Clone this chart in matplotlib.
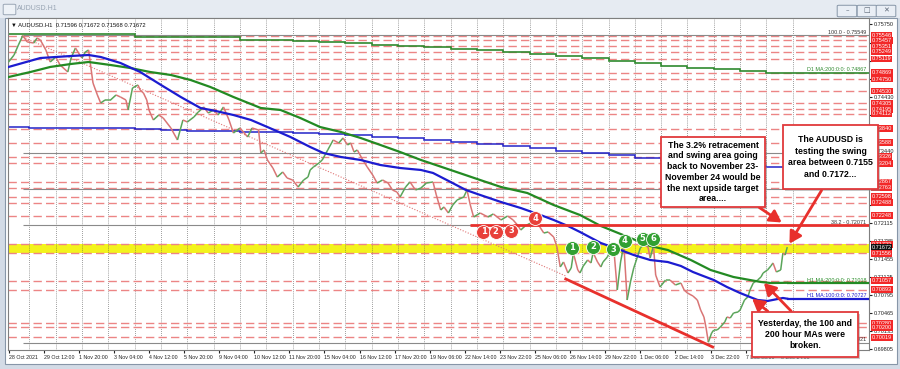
import matplotlib.pyplot as plt
from matplotlib.patches import Rectangle, FancyBboxPatch, FancyArrowPatch
from matplotlib.collections import LineCollection

# AUDUSD H1 - hourly bars, x = bar number from 28 Oct 2021 04:00
price_bars = [0, 5, 9, 13, 17, 23, 26, 29, 34, 38, 43, 47, 54, 57, 61, 65, 67, 70, 73, 75,
              77, 81, 84, 88, 93, 98, 102, 107, 109, 113, 118, 120, 123, 126, 128, 132, 137, 141, 148, 154,
              159, 163, 169, 173, 178, 182, 187, 191, 196, 201, 205, 211, 218, 222, 228, 230, 233, 236, 241, 245,
              250, 254, 259, 264, 269, 273, 275, 278, 283, 286, 291, 296, 301, 305, 309, 312, 315, 318, 323, 327,
              332, 336, 341, 346, 350, 354, 357, 362, 366, 371, 376, 381, 387, 390, 394, 397, 401, 405, 409, 415,
              418, 421, 424, 430, 437, 442, 449, 455, 460, 464, 467, 471, 476, 480, 485, 488, 492, 497, 500, 503,
              506, 510, 513, 515, 519, 521, 524, 528, 531, 533, 537, 540, 542, 546, 549, 552, 555, 558, 561, 564,
              567, 570, 573, 576, 579, 583, 585, 588, 590, 594, 599, 603, 608, 613, 616, 619, 624, 628, 631, 634,
              636, 638, 641, 643, 646, 649, 653, 655, 658, 661, 665, 667, 671, 674, 676, 679, 683, 686, 688, 692,
              695, 697, 700, 704, 706, 708, 710]
price_vals = [0.75063, 0.75191, 0.75375, 0.75549, 0.75430, 0.75411, 0.75503, 0.75466, 0.75283, 0.75063,
              0.75155, 0.75008, 0.74880, 0.75136, 0.75320, 0.75191, 0.75136, 0.75246, 0.75283, 0.74972,
              0.74678, 0.74459, 0.74312, 0.74367, 0.74367, 0.74459, 0.74422, 0.74367, 0.74184, 0.74587,
              0.74642, 0.74550, 0.74495, 0.74367, 0.74184, 0.74001, 0.74092, 0.74037, 0.73854, 0.73634,
              0.74001, 0.73964, 0.74056, 0.74147, 0.74239, 0.74129, 0.74184, 0.74092, 0.74239, 0.74001,
              0.73762, 0.73854, 0.73689, 0.73854, 0.73817, 0.73396, 0.73451, 0.73268, 0.73121, 0.72956,
              0.73048, 0.72938, 0.72901, 0.72773, 0.72901, 0.72956, 0.73085, 0.73140, 0.73213, 0.73268,
              0.73451, 0.73634, 0.73579, 0.73671, 0.73543, 0.73579, 0.73414, 0.73451, 0.73268, 0.73140,
              0.72993, 0.72846, 0.72901, 0.72846, 0.72718, 0.72682, 0.72590, 0.72773, 0.72865, 0.72718,
              0.72755, 0.72846, 0.72865, 0.72627, 0.72352, 0.72407, 0.72297, 0.72443, 0.72535, 0.72590,
              0.72718, 0.72443, 0.72224, 0.72297, 0.72224, 0.72279, 0.72169, 0.72242, 0.72169, 0.72077,
              0.71985, 0.72059, 0.72114, 0.72205, 0.72022, 0.71930, 0.71949, 0.71857, 0.71674, 0.71308,
              0.71399, 0.71198, 0.71289, 0.71560, 0.71253, 0.71198, 0.71326, 0.71436, 0.71381, 0.71570,
              0.71399, 0.71308, 0.71399, 0.71491, 0.71619, 0.71600, 0.70886, 0.71399, 0.71711, 0.70703,
              0.71033, 0.71289, 0.71472, 0.71656, 0.71711, 0.71674, 0.71472, 0.71700, 0.71161, 0.70941,
              0.71069, 0.71069, 0.70978, 0.71014, 0.70886, 0.70831, 0.70776, 0.70703, 0.70520, 0.70392,
              0.70190, 0.69930, 0.70098, 0.70153, 0.70153, 0.70208, 0.70300, 0.70392, 0.70373, 0.70465,
              0.70483, 0.70520, 0.70703, 0.70758, 0.70886, 0.71014, 0.71069, 0.71124, 0.71198, 0.71253,
              0.71326, 0.71381, 0.71216, 0.71253, 0.71564, 0.71527, 0.71672]

# H1 moving averages
ma100_bars = [0, 29, 57, 73, 84, 102, 120, 139, 157, 175, 189, 205, 221, 236, 257, 275, 287, 303, 321, 339,
              357, 376, 387, 403, 417, 430, 449, 467, 485, 497, 510, 521, 540, 558, 570, 585, 601, 613, 624, 631,
              643, 655, 667, 676, 683, 692, 706, 710]
ma100_vals = [0.74972, 0.75136, 0.75173, 0.75191, 0.75155, 0.75045, 0.74880, 0.74642, 0.74422, 0.74220,
              0.74165, 0.74092, 0.74001, 0.73872, 0.73689, 0.73506, 0.73396, 0.73323, 0.73268, 0.73176,
              0.73121, 0.73085, 0.73030, 0.72865, 0.72718, 0.72627, 0.72498, 0.72388, 0.72260, 0.72169,
              0.72059, 0.71949, 0.71747, 0.71619, 0.71527, 0.71436, 0.71399, 0.71326, 0.71216, 0.71161,
              0.71069, 0.70941, 0.70831, 0.70758, 0.70703, 0.70685, 0.70740, 0.70727]
ma200_bars = [0, 20, 38, 57, 73, 93, 111, 129, 148, 166, 184, 205, 230, 248, 266, 284, 303, 321, 339, 357,
              376, 403, 430, 449, 473, 497, 521, 540, 567, 585, 601, 622, 640, 661, 676, 686, 695, 710]
ma200_vals = [0.74788, 0.74880, 0.74972, 0.75027, 0.75063, 0.75008, 0.74953, 0.74880, 0.74825, 0.74733,
              0.74605, 0.74422, 0.74220, 0.74184, 0.74037, 0.73872, 0.73781, 0.73671, 0.73543, 0.73414,
              0.73268, 0.73085, 0.72901, 0.72773, 0.72663, 0.72443, 0.72260, 0.72059, 0.71839, 0.71692,
              0.71619, 0.71436, 0.71253, 0.71124, 0.71069, 0.71033, 0.71014, 0.71018]

# daily MAs, one value per trading day (stepped on the H1 chart)
d1_ma200 = [0.75576, 0.75576, 0.75576, 0.75576, 0.75576, 0.75521, 0.75521, 0.75521, 0.75521, 0.75475,
            0.75475, 0.75448, 0.75430, 0.75402, 0.75375, 0.75356, 0.75329, 0.75301, 0.75274, 0.75246,
            0.75210, 0.75173, 0.75131, 0.75087, 0.75039, 0.74995, 0.74959, 0.74929, 0.74898, 0.74867,
            0.74867]
d1_ma100 = [0.73872, 0.73863, 0.73854, 0.73854, 0.73845, 0.73836, 0.73817, 0.73808, 0.73799, 0.73781,
            0.73772, 0.73763, 0.73744, 0.73726, 0.73698, 0.73671, 0.73634, 0.73598, 0.73561, 0.73524,
            0.73479, 0.73433, 0.73396, 0.73351, 0.73305, 0.73268, 0.73231, 0.73195, 0.73158, 0.73140,
            0.73121]

red_levels = [0.75546, 0.75457, 0.75351, 0.75249, 0.75119, 0.74869, 0.74750, 0.74530, 0.74305, 0.74195,
              0.74112, 0.73840, 0.73588, 0.73326, 0.73204, 0.72867, 0.72763, 0.72598, 0.72488, 0.72248,
              0.71723, 0.71556, 0.71057, 0.70893, 0.70280, 0.70200, 0.70019]
fib_names = ["100.0", "61.8", "50.0", "38.2", "0.0"]
fib_prices = [0.75549, 0.73398, 0.72735, 0.72071, 0.69921]
swing_lo, swing_hi = 0.71556, 0.71723

price_ticks = [0.75750, 0.75420, 0.75090, 0.74760, 0.74430, 0.74100, 0.73770, 0.73440, 0.73110, 0.72780,
               0.72445, 0.72115, 0.71785, 0.71455, 0.71125, 0.70795, 0.70465, 0.70135, 0.69805]
# scale labels that are not hidden behind the red level tags
shown_ticks = [0.75750, 0.74430, 0.73440, 0.72115, 0.71785, 0.71455, 0.71125, 0.70795, 0.70465,
               0.70135, 0.69805]
time_labels = ["28 Oct 2021", "29 Oct 12:00", "1 Nov 20:00", "3 Nov 04:00", "4 Nov 12:00", "5 Nov 20:00",
               "9 Nov 04:00", "10 Nov 12:00", "11 Nov 20:00", "15 Nov 04:00", "16 Nov 12:00", "17 Nov 20:00",
               "19 Nov 06:00", "22 Nov 14:00", "23 Nov 22:00", "25 Nov 06:00", "26 Nov 14:00", "29 Nov 22:00",
               "1 Dec 06:00", "2 Dec 14:00", "3 Dec 22:00", "7 Dec 06:00", "8 Dec 14:00"]
label_bars = [32 * k for k in range(len(time_labels))]
day_bars = [19 + 24 * j for j in range(30)]

# trend lines (bar, price)
dotted_bars, dotted_vals = [13, 508], [0.75521, 0.71143]
channel_bars, channel_vals = [508, 642], [0.71088, 0.69842]

# numbered swing points
red_pts_bars = [433, 444, 458, 480]
red_pts_vals = [0.71949, 0.71949, 0.71967, 0.72205]
green_pts_bars = [514, 533, 551, 562, 578, 588]
green_pts_vals = [0.71656, 0.71674, 0.71637, 0.71784, 0.71821, 0.71821]

assert len(price_bars) == len(price_vals)
assert len(ma100_bars) == len(ma100_vals) and len(ma200_bars) == len(ma200_vals)

W, H = 900, 369
SMALL = "Liberation Sans"


def fx(x):
    return x / W


def fy(y):
    return 1 - y / H


fig = plt.figure(figsize=(9, 3.69), dpi=100, facecolor="#d3dbe6")

# window frame
fig.add_artist(Rectangle((0, fy(18)), 1, 18 / H, transform=fig.transFigure,
                         fc="#e6ebf2", ec="none", zorder=-3))
fig.add_artist(Rectangle((fx(5), fy(364)), 892 / W, 346 / H, transform=fig.transFigure,
                         fc="white", ec="#8796a8", lw=0.8, zorder=-2))
fig.add_artist(FancyBboxPatch((fx(5), fy(14)), 9 / W, 9 / H, boxstyle="round,pad=0.002",
                              transform=fig.transFigure, fc="#eef2f7", ec="#9aa6b5", lw=0.7, zorder=-1))
fig.text(fx(17), fy(9), "AUDUSD.H1", fontsize=5, family=SMALL, color="#98a4b3", va="center")
for bx, g in zip([839, 859, 878], ["\u2013", "\u25a1", "\u2715"]):
    fig.add_artist(FancyBboxPatch((fx(bx), fy(16)), 16 / W, 10 / H, boxstyle="round,pad=0.002",
                                  transform=fig.transFigure, fc="#e9eef5", ec="#8796a8", lw=0.7, zorder=-1))
    fig.text(fx(bx + 8), fy(10.5), g, fontsize=5, color="#5a6575", ha="center", va="center")

ax = fig.add_axes([fx(8), fy(350), 861 / W, 332 / H])
ax.set_facecolor("white")
ax.set_xlim(-0.5, 784.5)
ax.set_ylim(0.69787, 0.75869)

# swing area band
ax.axhspan(swing_lo, swing_hi, color="#f3f31c", lw=0, zorder=1)

for b in day_bars:
    ax.axvline(b, color="#444444", lw=0.5, ls=(0, (1, 2)), zorder=1.2)

for p in red_levels:
    ax.axhline(p, color="#ec8585", lw=1.0, ls=(0, (6, 3)), zorder=1.5)

for p in fib_prices:
    ax.hlines(p, 13, 784.5, color="#8a8a8a", lw=0.8, zorder=1.6)
for n, p in zip(fib_names, fib_prices):
    ax.text(0.997, p + 0.00005, f"{n} - {p:.5f}", transform=ax.get_yaxis_transform(),
            ha="right", va="bottom", fontsize=3.9, family=SMALL, color="#333333", zorder=2)

ax.plot(dotted_bars, dotted_vals, color="#e07575", lw=0.8, ls=(0, (1, 1.5)), zorder=2)

# daily MAs
edges = [-0.5] + day_bars + [784.5]
ax.stairs(d1_ma100, edges, baseline=None, color="#2323c8", lw=1.1, zorder=2.2)
ax.stairs(d1_ma200, edges, baseline=None, color="#2f8a2f", lw=1.2, zorder=2.2)
ax.text(0.997, d1_ma200[-1] + 0.00005, f"D1 MA:200:0:0: {d1_ma200[-1]:.5f}",
        transform=ax.get_yaxis_transform(), ha="right", va="bottom", fontsize=3.9, family=SMALL,
        color="#2f8a2f", zorder=2)

# price path, coloured by direction
segs, cols = [], []
for i in range(1, len(price_bars)):
    segs.append([(price_bars[i - 1], price_vals[i - 1]), (price_bars[i], price_vals[i])])
    cols.append("#5aa55a" if price_vals[i] >= price_vals[i - 1] else "#d97575")
ax.add_collection(LineCollection(segs, colors=cols, lw=1.1, zorder=3))

# H1 MAs
ax.plot(ma200_bars, ma200_vals, color="#238a23", lw=1.6, zorder=3.5)
ax.plot(ma100_bars, ma100_vals, color="#1c1cd0", lw=1.6, zorder=3.6)
ax.hlines(ma200_vals[-1], ma200_bars[-1], 784.5, color="#238a23", lw=1.6, zorder=3.5)
ax.hlines(ma100_vals[-1], ma100_bars[-1], 784.5, color="#1c1cd0", lw=1.6, zorder=3.6)
ax.text(0.997, ma200_vals[-1] + 0.00005, f"H1 MA:200:0:0: {ma200_vals[-1]:.5f}",
        transform=ax.get_yaxis_transform(), ha="right", va="bottom", fontsize=3.9, family=SMALL,
        color="#238a23")
ax.text(0.997, ma100_vals[-1] + 0.00005, f"H1 MA:100:0:0: {ma100_vals[-1]:.5f}",
        transform=ax.get_yaxis_transform(), ha="right", va="bottom", fontsize=3.9, family=SMALL,
        color="#1c1cd0")

# red trend lines
ax.hlines(fib_prices[3], 421, 784.5, color="#e8302c", lw=2.0, zorder=4)
ax.plot(channel_bars, channel_vals, color="#e8302c", lw=2.0, zorder=4)

# numbered swing circles
for pts_b, pts_v, c in [(red_pts_bars, red_pts_vals, "#e8403a"),
                        (green_pts_bars, green_pts_vals, "#32a032")]:
    ax.scatter(pts_b, pts_v, s=100, color=c, edgecolors="white", linewidths=0.6, zorder=6)
    for k, (b, v) in enumerate(zip(pts_b, pts_v), start=1):
        ax.text(b, v, str(k), color="white", fontsize=6, fontweight="bold",
                ha="center", va="center", zorder=7)

ax.text(0.003, 0.985, "\u25bc AUDUSD.H1  0.71596 0.71672 0.71568 0.71672", transform=ax.transAxes,
        fontsize=4.2, family=[SMALL, "DejaVu Sans"], va="top", color="#111111")

# axes styling
for s in ax.spines.values():
    s.set_color("#7f7f7f")
    s.set_linewidth(0.8)
ax.yaxis.tick_right()
ax.set_yticks(price_ticks)
ax.set_yticklabels([f"{p:.5f}" if p in shown_ticks else "" for p in price_ticks], family=SMALL)
ax.tick_params(axis="y", labelsize=4.0, length=2, pad=1.5, colors="#222222")
ax.set_xticks(label_bars)
ax.set_xticklabels(time_labels, ha="left", family=SMALL)
ax.tick_params(axis="x", labelsize=3.8, length=2, pad=1.5, colors="#222222")

# level labels on price scale
for p in red_levels:
    ax.text(1.003, p, f"{p:.5f}", transform=ax.get_yaxis_transform(), fontsize=4.0, family=SMALL,
            color="white", ha="left", va="center", clip_on=False, zorder=8,
            bbox=dict(boxstyle="square,pad=0.15", fc="#f22828", ec="none"))
ax.text(1.003, price_vals[-1], f"{price_vals[-1]:.5f}", transform=ax.get_yaxis_transform(), fontsize=4.0,
        family=SMALL, color="white", ha="left", va="center", clip_on=False, zorder=9,
        bbox=dict(boxstyle="square,pad=0.15", fc="#111111", ec="none"))


# comment boxes and arrows
def note(x0, y0, x1, y1, txt, fs, ls):
    fig.add_artist(Rectangle((fx(x0 + 2), fy(y1 + 2)), (x1 - x0) / W, (y1 - y0) / H,
                             transform=fig.transFigure, fc="#8a8a8a", alpha=0.45, ec="none", zorder=5))
    fig.add_artist(Rectangle((fx(x0), fy(y1)), (x1 - x0) / W, (y1 - y0) / H,
                             transform=fig.transFigure, fc="white", ec="#e0393b", lw=1.3, zorder=6))
    fig.text(fx((x0 + x1) / 2), fy((y0 + y1) / 2), txt, ha="center", va="center", fontsize=fs,
             fontweight="bold", family="Liberation Sans", linespacing=ls, zorder=7)


def arrow(xa, ya, xb, yb):
    fig.add_artist(FancyArrowPatch((fx(xa), fy(ya)), (fx(xb), fy(yb)), transform=fig.transFigure,
                                   arrowstyle="-|>,head_length=0.7,head_width=0.4", mutation_scale=10,
                                   color="#e8302c", lw=2.0, zorder=5.5))


arrow(757, 206, 784, 224)
arrow(823, 188, 788, 246)
arrow(770, 313, 750, 297)
arrow(793, 313, 762, 281)

note(661, 137, 765, 207, "The 3.2% retracement\nand swing area going\nback to November 23-\n"
     "November 24 would be\nthe next upside target\narea....", 6.3, 1.25)
note(783, 125, 878, 189, "The AUDUSD is\ntesting the swing\narea between 0.7155\nand 0.7172...", 6.3, 1.35)
note(752, 312, 858, 357, "Yesterday, the 100 and\n200 hour MAs were\nbroken.", 6.3, 1.25)

fig.savefig("out.png", dpi=100, facecolor=fig.get_facecolor())
